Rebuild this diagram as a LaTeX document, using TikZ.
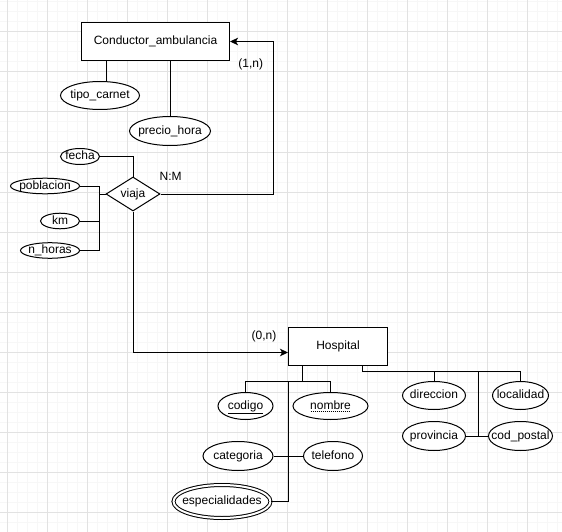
\documentclass[tikz,border=0pt]{standalone}
\usepackage{fontspec}
\setmainfont{Liberation Sans}
\usetikzlibrary{shapes,arrows.meta}
\usetikzlibrary{shapes.geometric,positioning}

\definecolor{gridmajor}{HTML}{E2E2E2}
\definecolor{gridminor}{HTML}{F7F7F7}

\newsavebox{\dotbox}
\newcommand{\dotunder}[1]{\sbox{\dotbox}{#1}\leavevmode\rlap{\raisebox{-2.6pt}{\hbox to \wd\dotbox{\leaders\hbox to 2pt{\hss\rule{1pt}{0.7pt}\hss}\hfill}}}\usebox{\dotbox}}

\tikzset{
  entity/.style={draw, rectangle, line width=1pt, fill=white, inner sep=0pt},
  attrib/.style={draw, ellipse, line width=1pt, fill=white, inner xsep=-20pt, inner ysep=0pt, text height=8.6pt, text depth=2.4pt},
  relation/.style={draw, diamond, line width=1pt, fill=white, inner sep=-4pt},
  link/.style={line width=1pt},
  card/.style={inner sep=0pt}
}

\begin{document}
\begin{tikzpicture}[x=1pt, y=-1pt, font=\fontsize{12pt}{14pt}\selectfont, >={Stealth[length=8pt,width=7.5pt,inset=2pt]}]
\useasboundingbox (0,0) rectangle (562,532);
% background grid
\foreach \gx in {7.5,17.5,...,557.5} \draw[gridminor, line width=1pt] (\gx,0) -- (\gx,532);
\foreach \gy in {2,12,...,522} \draw[gridminor, line width=1pt] (0,\gy) -- (562,\gy);
\foreach \gx in {7.5,47.5,...,527.5} \draw[gridmajor, line width=1pt] (\gx,0) -- (\gx,532);
\foreach \gy in {32,72,...,512} \draw[gridmajor, line width=1pt] (0,\gy) -- (562,\gy);

% Conductor_ambulancia and viaja
\node (cond) [entity, minimum width=148pt, minimum height=38pt] at (155.5,41.5) {Conductor\_ambulancia};
\node (tipo) [attrib, minimum width=79pt, minimum height=28pt] at (100,95.5) {tipo\_carnet};
\node (precio) [attrib, minimum width=81pt, minimum height=29pt] at (170,131) {precio\_hora};
\node (viaja) [relation, minimum width=54pt, minimum height=34pt] at (133,194) {viaja};
\node (fecha) [attrib, minimum width=39pt, minimum height=16pt] at (80,156.5) {fecha};
\node (poblacion) [attrib, minimum width=69pt, minimum height=15pt] at (45,186) {poblacion};
\node (km) [attrib, minimum width=39pt, minimum height=15pt] at (60,221) {km};
\node (nhoras) [attrib, minimum width=59pt, minimum height=15pt] at (50,250.5) {n\_horas};

% Hospital
\node (hosp) [entity, minimum width=99pt, minimum height=38pt] at (338,346.5) {Hospital};
\node (codigo) [attrib, minimum width=55pt, minimum height=27pt] at (245.5,406) {\underline{codigo}};
\node (nombre) [attrib, minimum width=75pt, minimum height=27pt, node distance=85pt, right of=codigo] {\dotunder{nombre}};
\node (categoria) [attrib, minimum width=70pt, minimum height=29pt] at (238,456) {categoria};
\node (telefono) [attrib, minimum width=59pt, minimum height=29pt, node distance=95pt, right of=categoria] {telefono};
\node (espec) [attrib, double, double distance=2pt, minimum width=97pt, minimum height=33pt] at (222,501.5) {especialidades};
\node (direccion) [attrib, minimum width=63pt, minimum height=28pt] at (434,395.5) {direccion};
\node (localidad) [attrib, minimum width=56pt, minimum height=28pt, node distance=86.5pt, right of=direccion] {localidad};
\node (provincia) [attrib, minimum width=63pt, minimum height=29pt, node distance=40.5pt, below of=direccion] {provincia};
\node (codpostal) [attrib, minimum width=64pt, minimum height=29pt, node distance=40.5pt, below of=localidad] {cod\_postal};

\node (card1) [card] at (250.7,64) {(1,n)};
\node (nm) [card] at (170.7,176) {N:M};
\node (card0) [card] at (264,336) {(0,n)};

\draw [link]([xshift=25pt]cond.south west) -- ++(0,20);
\draw [link](cond.south -| precio.north) -- (precio.north);
\draw [link,->](viaja.east) -| ([xshift=43pt]cond.east) -- (cond.east);
\draw [link,->](viaja.south) |- ([yshift=-6pt]hosp.west);
\draw [link](fecha.east) -| (viaja.north);
\draw [link](viaja.west) -- ++(-6,0) |- (poblacion.east);
\draw [link](viaja.west) -- ++(-6,0) |- (km.east);
\draw [link](viaja.west) -- ++(-6,0) |- (nhoras.east);

\draw [link]([xshift=14pt]hosp.south west) -- ++(0,15) -| (codigo.north);
\draw [link]([xshift=14pt]hosp.south west) -- ++(0,15) -| (nombre.north);
\draw [link]([xshift=14pt]hosp.south west) -- ++(0,15) -- ++(-14,0) |- (categoria.east);
\draw [link]([xshift=14pt]hosp.south west) -- ++(0,15) -- ++(-14,0) |- (telefono.west);
\draw [link]([xshift=14pt]hosp.south west) -- ++(0,15) -- ++(-14,0) |- (espec.east);
\draw [link]([xshift=-26pt]hosp.south east) -- ++(0,5) -| (direccion.north);
\draw [link]([xshift=-26pt]hosp.south east) -- ++(0,5) -| (localidad.north);
\draw [link]([xshift=-26pt]hosp.south east) -- ++(0,5) -- ++(116,0) |- (provincia.east);
\draw [link]([xshift=-26pt]hosp.south east) -- ++(0,5) -- ++(116,0) |- (codpostal.west);
\end{tikzpicture}
\end{document}
